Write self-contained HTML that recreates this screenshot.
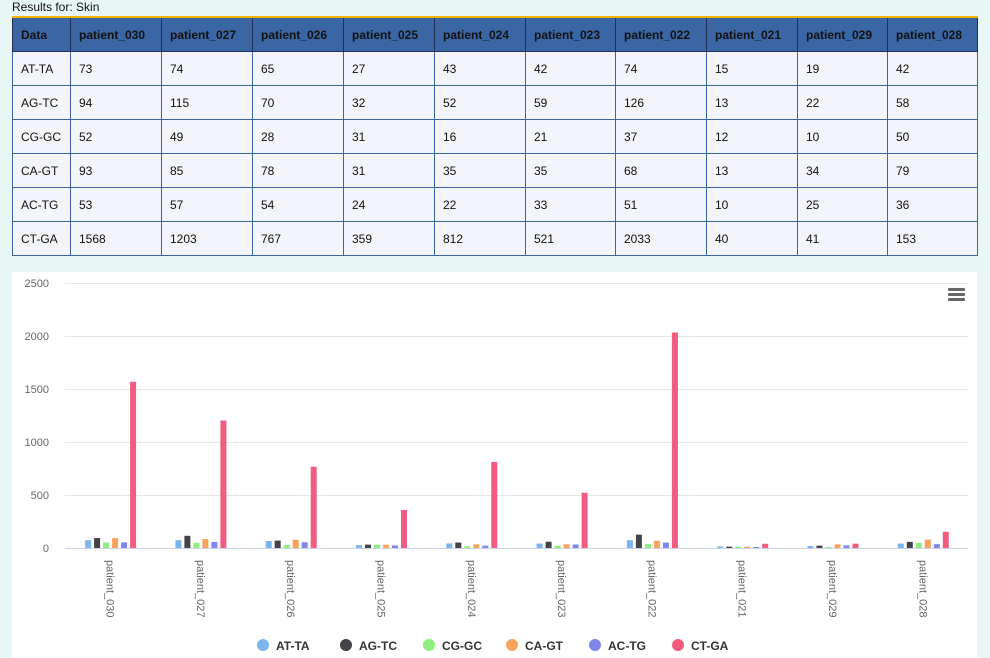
<!DOCTYPE html>
<html><head><meta charset="utf-8"><style>
body{margin:0;width:990px;height:658px;background:#e9f6f6;font-family:"Liberation Sans",sans-serif;position:relative;overflow:hidden}
.title{position:absolute;left:12px;top:0;font-size:12px;color:#111}
table{position:absolute;left:12px;top:16px;border-collapse:collapse;font-size:12px;border-top:2px solid #f0b400;table-layout:fixed;width:965px}
td,th{border:1px solid #3a63a0;height:33px;padding:0 0 0 8px;text-align:left;color:#111;overflow:hidden;white-space:nowrap}
th{background:#3b66a5;font-weight:bold;border-color:#1f2f4f}
td{background:#f4f5fa}
.card{position:absolute;left:12px;top:272px;width:965px;height:386px;background:#fff}
</style></head><body>
<div class="title">Results for: Skin</div>
<table>
<colgroup><col style="width:58px"><col style="width:91px"><col style="width:91px"><col style="width:91px"><col style="width:91px"><col style="width:91px"><col style="width:90px"><col style="width:91px"><col style="width:91px"><col style="width:90px"><col style="width:90px"></colgroup>
<tr><th>Data</th><th>patient_030</th><th>patient_027</th><th>patient_026</th><th>patient_025</th><th>patient_024</th><th>patient_023</th><th>patient_022</th><th>patient_021</th><th>patient_029</th><th>patient_028</th></tr>
<tr><td>AT-TA</td><td>73</td><td>74</td><td>65</td><td>27</td><td>43</td><td>42</td><td>74</td><td>15</td><td>19</td><td>42</td></tr>
<tr><td>AG-TC</td><td>94</td><td>115</td><td>70</td><td>32</td><td>52</td><td>59</td><td>126</td><td>13</td><td>22</td><td>58</td></tr>
<tr><td>CG-GC</td><td>52</td><td>49</td><td>28</td><td>31</td><td>16</td><td>21</td><td>37</td><td>12</td><td>10</td><td>50</td></tr>
<tr><td>CA-GT</td><td>93</td><td>85</td><td>78</td><td>31</td><td>35</td><td>35</td><td>68</td><td>13</td><td>34</td><td>79</td></tr>
<tr><td>AC-TG</td><td>53</td><td>57</td><td>54</td><td>24</td><td>22</td><td>33</td><td>51</td><td>10</td><td>25</td><td>36</td></tr>
<tr><td>CT-GA</td><td>1568</td><td>1203</td><td>767</td><td>359</td><td>812</td><td>521</td><td>2033</td><td>40</td><td>41</td><td>153</td></tr>
</table>
<div class="card"></div>
<svg width="990" height="658" style="position:absolute;left:0;top:0" font-family="Liberation Sans, sans-serif">
<g stroke="#e6e6e6" stroke-width="1">
<line x1="65" x2="968" y1="283.5" y2="283.5"/><line x1="65" x2="968" y1="336.5" y2="336.5"/><line x1="65" x2="968" y1="389.5" y2="389.5"/><line x1="65" x2="968" y1="442.5" y2="442.5"/><line x1="65" x2="968" y1="495.5" y2="495.5"/>
</g>
<line x1="65" x2="968" y1="548.5" y2="548.5" stroke="#ccd6eb"/>
<g font-size="11" fill="#666" text-anchor="end">
<text x="49" y="287">2500</text><text x="49" y="340">2000</text><text x="49" y="393">1500</text><text x="49" y="446">1000</text><text x="49" y="499">500</text><text x="49" y="552">0</text>
</g>
<g fill="#666"><rect x="948" y="288" width="17" height="3" rx="1"/><rect x="948" y="293" width="17" height="3" rx="1"/><rect x="948" y="298" width="17" height="3" rx="1"/></g>
<g transform="translate(0,548) scale(1,-0.106)">
<g transform="translate(85.1,0)"><rect x="0" width="6" height="73" fill="#7cb5ec"/><rect x="9" width="6" height="94" fill="#434348"/><rect x="18" width="6" height="52" fill="#90ed7d"/><rect x="27" width="6" height="93" fill="#f7a35c"/><rect x="36" width="6" height="53" fill="#8085e9"/><rect x="45" width="6" height="1568" fill="#f15c80"/></g>
<g transform="translate(175.4,0)"><rect x="0" width="6" height="74" fill="#7cb5ec"/><rect x="9" width="6" height="115" fill="#434348"/><rect x="18" width="6" height="49" fill="#90ed7d"/><rect x="27" width="6" height="85" fill="#f7a35c"/><rect x="36" width="6" height="57" fill="#8085e9"/><rect x="45" width="6" height="1203" fill="#f15c80"/></g>
<g transform="translate(265.7,0)"><rect x="0" width="6" height="65" fill="#7cb5ec"/><rect x="9" width="6" height="70" fill="#434348"/><rect x="18" width="6" height="28" fill="#90ed7d"/><rect x="27" width="6" height="78" fill="#f7a35c"/><rect x="36" width="6" height="54" fill="#8085e9"/><rect x="45" width="6" height="767" fill="#f15c80"/></g>
<g transform="translate(356,0)"><rect x="0" width="6" height="27" fill="#7cb5ec"/><rect x="9" width="6" height="32" fill="#434348"/><rect x="18" width="6" height="31" fill="#90ed7d"/><rect x="27" width="6" height="31" fill="#f7a35c"/><rect x="36" width="6" height="24" fill="#8085e9"/><rect x="45" width="6" height="359" fill="#f15c80"/></g>
<g transform="translate(446.3,0)"><rect x="0" width="6" height="43" fill="#7cb5ec"/><rect x="9" width="6" height="52" fill="#434348"/><rect x="18" width="6" height="16" fill="#90ed7d"/><rect x="27" width="6" height="35" fill="#f7a35c"/><rect x="36" width="6" height="22" fill="#8085e9"/><rect x="45" width="6" height="812" fill="#f15c80"/></g>
<g transform="translate(536.6,0)"><rect x="0" width="6" height="42" fill="#7cb5ec"/><rect x="9" width="6" height="59" fill="#434348"/><rect x="18" width="6" height="21" fill="#90ed7d"/><rect x="27" width="6" height="35" fill="#f7a35c"/><rect x="36" width="6" height="33" fill="#8085e9"/><rect x="45" width="6" height="521" fill="#f15c80"/></g>
<g transform="translate(626.9,0)"><rect x="0" width="6" height="74" fill="#7cb5ec"/><rect x="9" width="6" height="126" fill="#434348"/><rect x="18" width="6" height="37" fill="#90ed7d"/><rect x="27" width="6" height="68" fill="#f7a35c"/><rect x="36" width="6" height="51" fill="#8085e9"/><rect x="45" width="6" height="2033" fill="#f15c80"/></g>
<g transform="translate(717.2,0)"><rect x="0" width="6" height="15" fill="#7cb5ec"/><rect x="9" width="6" height="13" fill="#434348"/><rect x="18" width="6" height="12" fill="#90ed7d"/><rect x="27" width="6" height="13" fill="#f7a35c"/><rect x="36" width="6" height="10" fill="#8085e9"/><rect x="45" width="6" height="40" fill="#f15c80"/></g>
<g transform="translate(807.5,0)"><rect x="0" width="6" height="19" fill="#7cb5ec"/><rect x="9" width="6" height="22" fill="#434348"/><rect x="18" width="6" height="10" fill="#90ed7d"/><rect x="27" width="6" height="34" fill="#f7a35c"/><rect x="36" width="6" height="25" fill="#8085e9"/><rect x="45" width="6" height="41" fill="#f15c80"/></g>
<g transform="translate(897.8,0)"><rect x="0" width="6" height="42" fill="#7cb5ec"/><rect x="9" width="6" height="58" fill="#434348"/><rect x="18" width="6" height="50" fill="#90ed7d"/><rect x="27" width="6" height="79" fill="#f7a35c"/><rect x="36" width="6" height="36" fill="#8085e9"/><rect x="45" width="6" height="153" fill="#f15c80"/></g>
</g>
<g font-size="11" fill="#666">
<text transform="translate(106.6,560) rotate(90)">patient_030</text>
<text transform="translate(196.9,560) rotate(90)">patient_027</text>
<text transform="translate(287.2,560) rotate(90)">patient_026</text>
<text transform="translate(377.5,560) rotate(90)">patient_025</text>
<text transform="translate(467.8,560) rotate(90)">patient_024</text>
<text transform="translate(558.1,560) rotate(90)">patient_023</text>
<text transform="translate(648.4,560) rotate(90)">patient_022</text>
<text transform="translate(738.7,560) rotate(90)">patient_021</text>
<text transform="translate(829,560) rotate(90)">patient_029</text>
<text transform="translate(919.3,560) rotate(90)">patient_028</text>
</g>
<g font-size="12" font-weight="bold" fill="#333">
<circle cx="263" cy="645" r="6" fill="#7cb5ec"/><text x="276" y="650">AT-TA</text>
<circle cx="346" cy="645" r="6" fill="#434348"/><text x="359" y="650">AG-TC</text>
<circle cx="429" cy="645" r="6" fill="#90ed7d"/><text x="442" y="650">CG-GC</text>
<circle cx="512" cy="645" r="6" fill="#f7a35c"/><text x="525" y="650">CA-GT</text>
<circle cx="595" cy="645" r="6" fill="#8085e9"/><text x="608" y="650">AC-TG</text>
<circle cx="678" cy="645" r="6" fill="#f15c80"/><text x="691" y="650">CT-GA</text>
</g>
</svg>
</body></html>
